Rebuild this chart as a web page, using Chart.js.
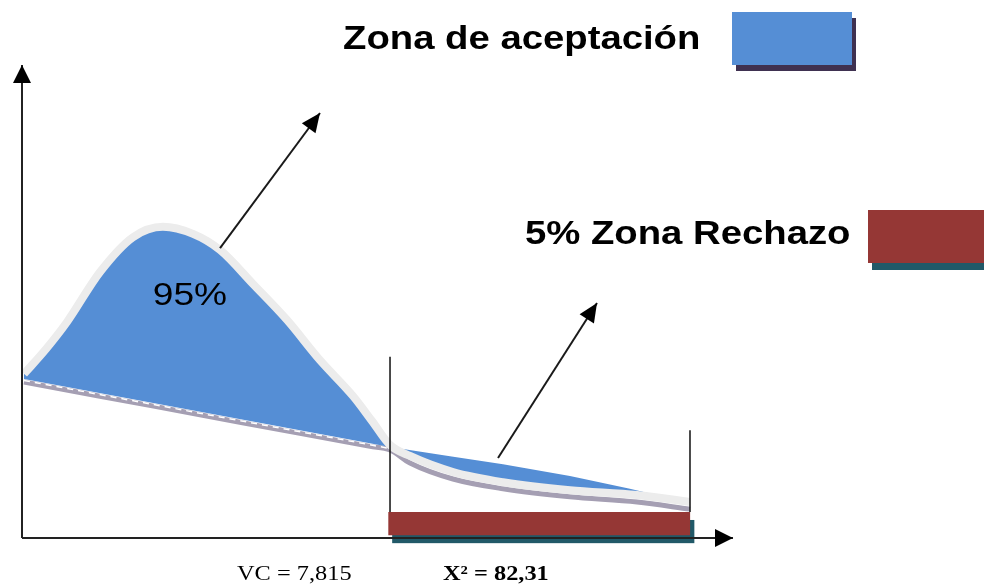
<!DOCTYPE html>
<html>
<head>
<meta charset="utf-8">
<script src="https://cdn.jsdelivr.net/npm/chart.js@4/dist/chart.umd.min.js"></script>
<style>
  html, body { margin: 0; padding: 0; background: #ffffff; overflow: hidden; }
  canvas { display: block; }
</style>
</head>
<body>
<canvas id="c" width="984" height="585"></canvas>
<script>
// ---- Diagram data (schematic units: axis origin at 0,0; axes run to 100) ----

// Chi-square style density curve
const curveX = [0.28, 3.38, 6.33, 10.97, 15.61, 19.83, 24.05, 27.85, 32.49, 37.27, 41.91, 46.55, 49.23, 51.76, 54.57, 60.62, 67.65, 77.07, 86.5, 93.95];
const curveY = [34.7, 39.96, 45.67, 56.24, 63.6, 65.8, 64.3, 60.9, 53.7, 46.1, 37.6, 30.02, 24.74, 19.66, 17.34, 13.95, 11.8, 10.1, 9.1, 7.6];

// Lower boundary of the shaded area
const baseX = [0.28, 51.76, 60.2, 67.65, 77.07, 85.5, 93.95];
const baseY = [33.6, 19.24, 17.3, 15.6, 13.1, 10.4, 7.4];

// Grey contour under the shaded area
const rimX = [0.28, 10.97, 25.03, 39.09, 48.95, 51.76, 54.57, 60.62, 67.65, 77.07, 86.5, 93.95];
const rimY = [32.98, 29.98, 26.05, 22.11, 19.37, 18.6, 15.86, 12.47, 10.4, 8.7, 7.6, 6.1];

// Dashed edge along the straight part of the boundary
const dashX = [0.28, 51.76];
const dashY = [33.3, 18.92];

// Critical value and statistic markers
const vcLineX = [51.76, 51.76];
const vcLineY = [38.3, 5.5];
const statLineX = [93.95, 93.95];
const statLineY = [22.8, 5.5];

// Rejection band along the horizontal axis
const bandX = [51.5, 94.0];
const bandTop = 5.5;
const bandBottom = 0.6;

// Axes
const yAxisX = [0, 0];
const yAxisY = [0, 100];
const xAxisX = [0, 100];
const xAxisY = [0, 0];

// Pointer arrows
const arrow1X = [27.85, 41.91];
const arrow1Y = [61.3, 89.85];
const arrow2X = [66.95, 80.87];
const arrow2Y = [16.9, 49.7];

// Texts
const areaLabel = '95%';
const areaLabelX = 23.6;
const areaLabelY = 51.8;
const legendAccept = 'Zona de aceptación';
const legendReject = '5% Zona Rechazo';
const vcLabel = 'VC = 7,815';
const statLabel = 'X² = 82,31';

// Colours
const BLUE = '#558ed5';
const BLUE_SHADOW = '#3f3151';
const RED = '#953735';
const TEAL = '#215968';
const RIM = '#a59fb3';
const HALO = '#ececec';
const INK = '#111111';

const pts = (xs, ys) => xs.map((x, i) => ({ x, y: ys[i] }));

function lineDs(xs, ys, extra) {
  return Object.assign({
    type: 'line',
    data: pts(xs, ys),
    pointRadius: 0,
    borderWidth: 2,
    borderColor: INK,
    fill: false,
    tension: 0
  }, extra);
}

const datasets = [
  // 0: boundary used as fill target (invisible)
  lineDs(baseX, baseY, { borderWidth: 0, borderColor: 'rgba(0,0,0,0)', order: 50 }),
  // 1: grey rim
  lineDs(rimX, rimY, { borderWidth: 5, borderColor: RIM, cubicInterpolationMode: 'monotone', order: 40 }),
  // 2: density curve with blue area down to the boundary and a pale halo
  lineDs(curveX, curveY, {
    borderWidth: 8, borderColor: HALO, cubicInterpolationMode: 'monotone',
    fill: { target: 0, above: BLUE, below: BLUE }, backgroundColor: BLUE, order: 30
  }),
  // 3: white dashes on the straight boundary
  lineDs(dashX, dashY, { borderWidth: 1.5, borderColor: '#ffffff', borderDash: [6, 5], order: 20 }),
  // 4-5: vertical markers
  lineDs(vcLineX, vcLineY, { borderWidth: 1.5, order: 15 }),
  lineDs(statLineX, statLineY, { borderWidth: 1.5, order: 15 }),
  // 6: rejection band
  lineDs(bandX, [bandTop, bandTop], {
    borderWidth: 0, borderColor: RED, backgroundColor: RED,
    fill: { value: bandBottom }, dropShadow: { color: TEAL, dx: 4, dy: 8 }, order: 10
  }),
  // 7-8: axes with arrowheads
  lineDs(yAxisX, yAxisY, { borderWidth: 2, borderColor: '#222222', arrowHead: { len: 18, width: 18 }, order: 5 }),
  lineDs(xAxisX, xAxisY, { borderWidth: 2, borderColor: '#222222', arrowHead: { len: 18, width: 18 }, order: 5 }),
  // 9-10: pointer arrows
  lineDs(arrow1X, arrow1Y, { borderWidth: 2, borderColor: '#1a1a1a', arrowHead: { len: 19, width: 17 }, order: 4 }),
  lineDs(arrow2X, arrow2Y, { borderWidth: 2, borderColor: '#1a1a1a', arrowHead: { len: 19, width: 17 }, order: 4 })
];

function stretchedText(ctx, text, x, y, font, sx) {
  ctx.save();
  ctx.font = font;
  ctx.fillStyle = '#000000';
  ctx.textBaseline = 'alphabetic';
  ctx.textAlign = 'left';
  ctx.translate(x, y);
  ctx.scale(sx, 1);
  ctx.fillText(text, 0, 0);
  ctx.restore();
}

function legendBox(ctx, x, y, w, h, fill, shadow, dx, dy) {
  ctx.fillStyle = shadow;
  ctx.fillRect(x + dx, y + dy, w, h);
  ctx.fillStyle = fill;
  ctx.fillRect(x, y, w, h);
}

const diagramPlugin = {
  id: 'diagram',
  beforeDatasetsDraw(chart) {
    const ctx = chart.ctx;
    chart.data.datasets.forEach((ds, i) => {
      if (!ds.dropShadow) return;
      const el = chart.getDatasetMeta(i).data;
      const x0 = el[0].x, x1 = el[el.length - 1].x;
      const yTop = el[0].y;
      const yBot = chart.scales.y.getPixelForValue(ds.fill.value);
      ctx.save();
      ctx.fillStyle = ds.dropShadow.color;
      ctx.fillRect(x0 + ds.dropShadow.dx, yTop + ds.dropShadow.dy, x1 - x0, yBot - yTop);
      ctx.restore();
    });
  },
  afterDatasetsDraw(chart) {
    const ctx = chart.ctx;
    chart.data.datasets.forEach((ds, i) => {
      if (!ds.arrowHead) return;
      const el = chart.getDatasetMeta(i).data;
      const a = el[el.length - 2], b = el[el.length - 1];
      const ang = Math.atan2(b.y - a.y, b.x - a.x);
      const { len, width } = ds.arrowHead;
      const bx = b.x - Math.cos(ang) * len, by = b.y - Math.sin(ang) * len;
      const px = -Math.sin(ang) * width / 2, py = Math.cos(ang) * width / 2;
      ctx.save();
      ctx.fillStyle = '#000000';
      ctx.beginPath();
      ctx.moveTo(b.x, b.y);
      ctx.lineTo(bx + px, by + py);
      ctx.lineTo(bx - px, by - py);
      ctx.closePath();
      ctx.fill();
      ctx.restore();
    });
  },
  afterDraw(chart) {
    const ctx = chart.ctx;
    const sx = chart.scales.x, sy = chart.scales.y;
    const stretch = 1.16;
    // label inside the acceptance area
    stretchedText(ctx, areaLabel, sx.getPixelForValue(areaLabelX) - 37, sy.getPixelForValue(areaLabelY) + 12,
      '32px "Liberation Sans", Arial, sans-serif', stretch);
    // legend
    stretchedText(ctx, legendAccept, 343, 49, 'bold 33px "Liberation Sans", Arial, sans-serif', stretch);
    legendBox(ctx, 732, 12, 120, 53, BLUE, BLUE_SHADOW, 4, 6);
    stretchedText(ctx, legendReject, 525, 244, 'bold 33px "Liberation Sans", Arial, sans-serif', stretch);
    legendBox(ctx, 868, 210, 122, 53, RED, TEAL, 4, 7);
    // values under the axis
    stretchedText(ctx, vcLabel, 237, 580, '21px "Liberation Serif", "Times New Roman", serif', stretch);
    stretchedText(ctx, statLabel, 443, 580, 'bold 21px "Liberation Serif", "Times New Roman", serif', stretch);
  }
};

new Chart(document.getElementById('c'), {
  type: 'line',
  data: { datasets },
  options: {
    responsive: false,
    animation: false,
    layout: { padding: 0 },
    scales: {
      x: { type: 'linear', min: -3.094, max: 135.3, display: false },
      y: { type: 'linear', min: -9.937, max: 113.74, display: false }
    },
    plugins: {
      legend: { display: false },
      tooltip: { enabled: false }
    }
  },
  plugins: [diagramPlugin]
});
</script>
</body>
</html>
